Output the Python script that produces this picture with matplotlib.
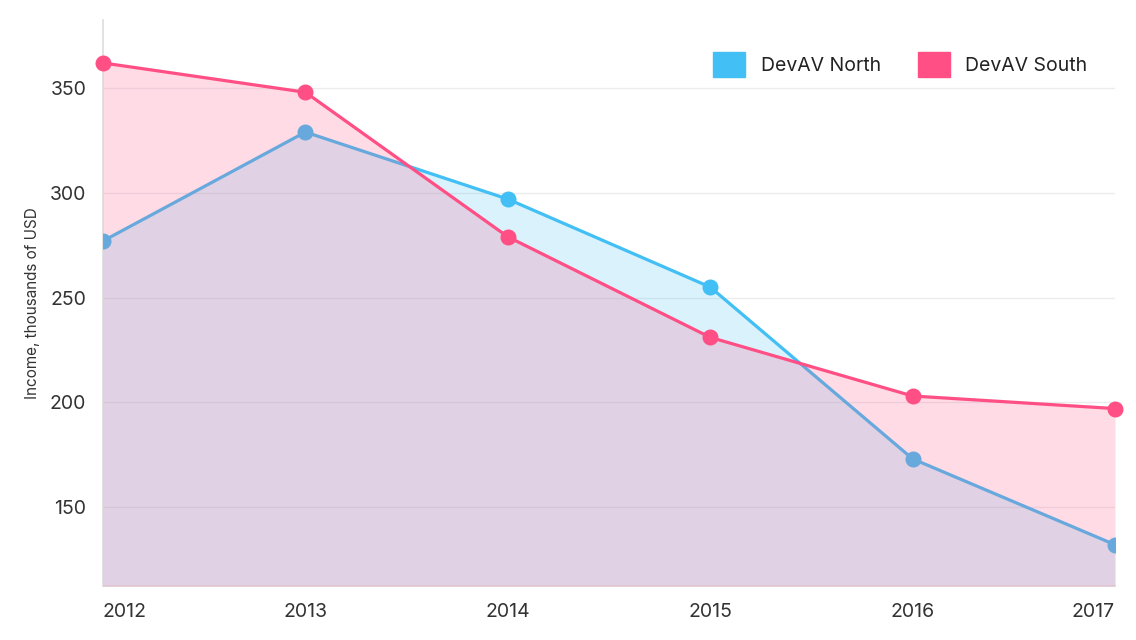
import numpy as np
import matplotlib.pyplot as plt
from matplotlib.patches import Patch

plt.rcParams['font.family'] = ['Inter', 'DejaVu Sans']

years = [2012, 2013, 2014, 2015, 2016, 2017]
north = [277, 329, 297, 255, 173, 132]
south = [362, 348, 279, 231, 203, 197]
series_names = ['DevAV North', 'DevAV South']
yticks = [150, 200, 250, 300, 350]

north_color = '#42bff4'
south_color = '#ff4f84'
y_min, y_max = 112.3, 382.5

fig = plt.figure(figsize=(11.36, 6.4), dpi=100)
ax = fig.add_axes([103 / 1136, 1 - 586 / 640, 1012 / 1136, 566 / 640])

# north first, south fill goes over its line (that's why it looks muted)
ax.fill_between(years, north, y_min, color=north_color, alpha=0.2, linewidth=0, zorder=2)
ax.plot(years, north, color=north_color, lw=2.3, marker='o', ms=10.5, zorder=3)
ax.fill_between(years, south, y_min, color=south_color, alpha=0.2, linewidth=0, zorder=4)
ax.plot(years, south, color=south_color, lw=2.3, marker='o', ms=10.5, zorder=5,
        clip_on=False)

ax.set_xlim(years[0], years[-1])
ax.set_ylim(y_min, y_max)
ax.set_xticks(years)
ax.set_xticklabels([str(y) for y in years])
ax.set_yticks(yticks)
ax.grid(axis='y', color='#ececec', lw=1, zorder=1)
ax.set_axisbelow(True)

for s in ['top', 'right']:
    ax.spines[s].set_visible(False)
for s in ['left', 'bottom']:
    ax.spines[s].set_color('#dddddd')
    ax.spines[s].set_linewidth(1.2)

ax.tick_params(axis='both', length=0, labelsize=14, colors='#333333')
ax.tick_params(axis='y', pad=12)
ax.tick_params(axis='x', pad=12)
labels = ax.get_xticklabels()
labels[0].set_horizontalalignment('left')
labels[-1].set_horizontalalignment('right')

ax.set_ylabel('Income, thousands of USD', fontsize=11, color='#333333', labelpad=7)

handles = [Patch(color=north_color), Patch(color=south_color)]
ax.legend(handles, series_names, loc='upper right', bbox_to_anchor=(0.99, 0.975),
          ncol=2, frameon=False, fontsize=14, handlelength=1.65, handleheight=1.65,
          handletextpad=0.8, columnspacing=1.9, labelcolor='#222222')

fig.savefig('out.png', dpi=100)
